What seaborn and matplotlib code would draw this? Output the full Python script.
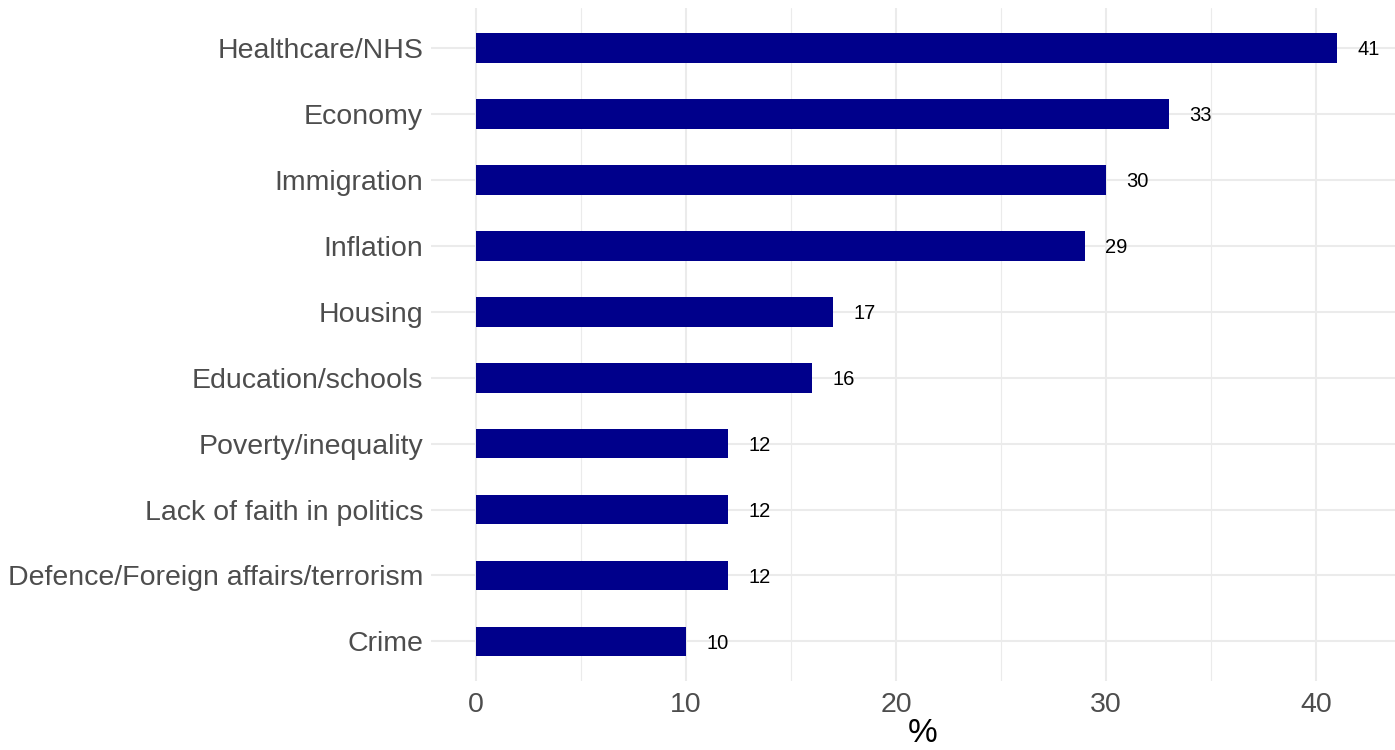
import matplotlib
matplotlib.use("Agg")
import matplotlib.pyplot as plt
import seaborn as sns
import pandas as pd
import numpy as np

categories = ["Healthcare/NHS", "Economy", "Immigration", "Inflation", "Housing",
              "Education/schools", "Poverty/inequality", "Lack of faith in politics",
              "Defence/Foreign affairs/terrorism", "Crime"]
values = [41, 33, 30, 29, 17, 16, 12, 12, 12, 10]
x_ticks = [0, 10, 20, 30, 40]
x_label = "%"

df = pd.DataFrame({"issue": categories, "pct": values})

sns.set_theme(style="white")
plt.rcParams["font.family"] = ["Liberation Sans", "DejaVu Sans"]

fig = plt.figure(figsize=(13.95, 7.5), dpi=100)
ax = fig.add_axes([431.4 / 1395, 69 / 750, (1413 - 431.4) / 1395, (681 - 8.4) / 750])

sns.barplot(data=df, x="pct", y="issue", order=categories, orient="h",
            color="#00008B", width=0.45, saturation=1, linewidth=0, ax=ax, zorder=3)

for i, v in enumerate(values):
    ax.text(v + 1.5, i + 0.03, str(v), ha="center", va="center", fontsize=14.5,
            color="black", zorder=4)

ax.set_xlim(-2.125, 44.625)
ax.set_ylim(len(categories) - 1 + 0.6, -0.6)
ax.set_xticks(x_ticks)
ax.set_xticks([5, 15, 25, 35], minor=True)
ax.grid(True, which="major", axis="both", color="#EBEBEB", lw=1.5, zorder=0)
ax.grid(True, which="minor", axis="x", color="#EBEBEB", lw=0.8, zorder=0)
ax.set_axisbelow(True)
for s in ax.spines.values():
    s.set_visible(False)
ax.tick_params(axis="both", which="both", length=0)
ax.tick_params(axis="y", pad=6, labelsize=20.5, labelcolor="#4D4D4D")
ax.tick_params(axis="x", pad=8, labelsize=20.5, labelcolor="#4D4D4D")
ax.set_ylabel("")
ax.set_xlabel(x_label, fontsize=24, color="black", labelpad=0)

fig.savefig("out.png", dpi=100)
